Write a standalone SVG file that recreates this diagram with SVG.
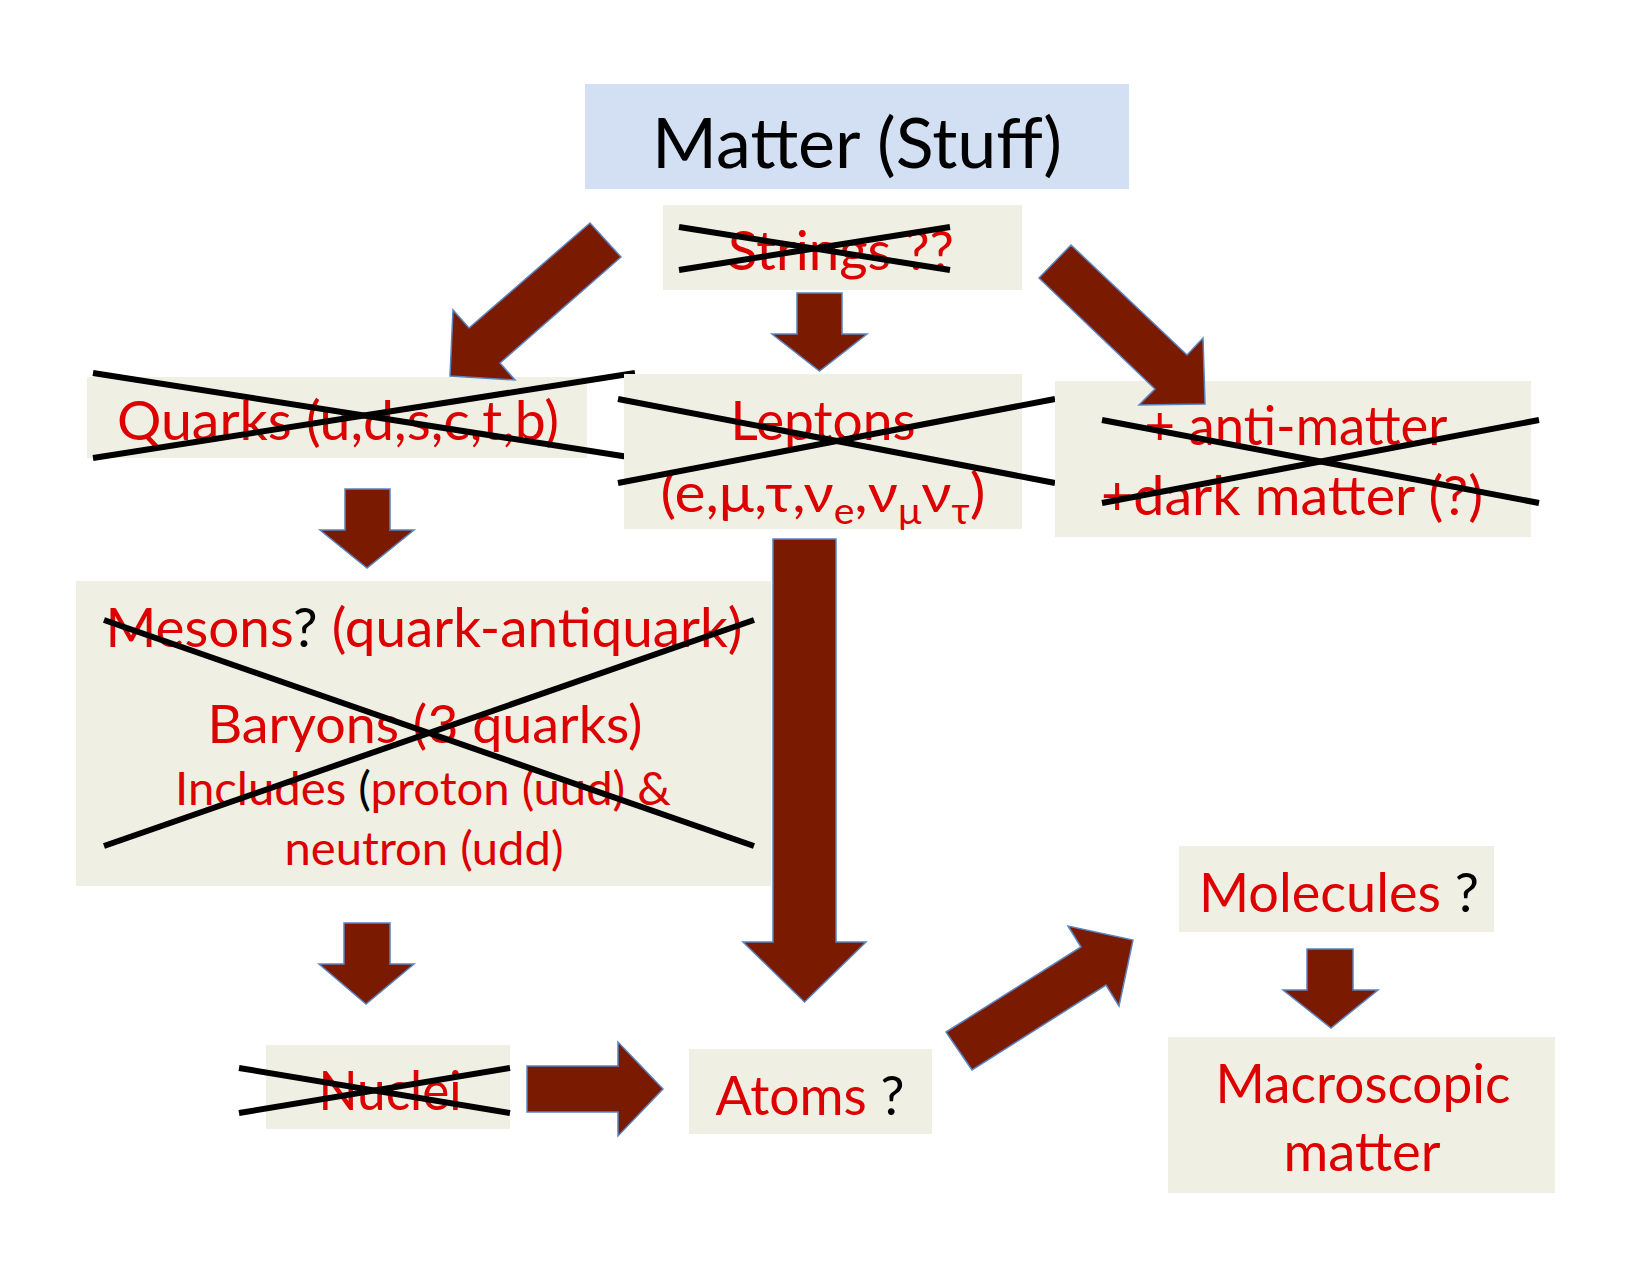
<svg xmlns="http://www.w3.org/2000/svg" width="1650" height="1275" viewBox="0 0 1650 1275">
<style>
.box{fill:#eff0e3}
.t{font-family:Lato,"Open Sans","Liberation Sans",sans-serif;fill:#dd0000;text-anchor:middle}
.k{fill:#000}
.x{stroke:#000;stroke-width:6;fill:none}
.arr{fill:#7a1a00;stroke:#5a84c0;stroke-width:1.5;stroke-linejoin:miter}
</style>
<rect width="1650" height="1275" fill="#fff"/>
<g id="matter">
<rect x="585" y="84" width="544" height="105" fill="#d3e0f3"/>
<text class="t k" x="857" y="168" font-size="70" textLength="410" lengthAdjust="spacingAndGlyphs">Matter (Stuff)</text>
</g>
<g id="strings">
<rect class="box" x="663" y="205" width="359" height="85"/>
<text class="t" x="841" y="270" font-size="54" textLength="226" lengthAdjust="spacingAndGlyphs">Strings ??</text>
<line class="x" x1="679" y1="227" x2="950" y2="270"/>
<line class="x" x1="679" y1="270" x2="950" y2="227"/>
</g>
<g id="quarks">
<rect class="box" x="87" y="377" width="500" height="81"/>
<text class="t" x="338" y="440" font-size="54" textLength="442" lengthAdjust="spacingAndGlyphs">Quarks (u,d,s,c,t,b)</text>
<line class="x" x1="93" y1="373" x2="635" y2="458"/>
<line class="x" x1="93" y1="458" x2="635" y2="373"/>
</g>
<g id="leptons">
<rect class="box" x="624" y="374" width="398" height="155"/>
<text class="t" x="823" y="440" font-size="54" textLength="185" lengthAdjust="spacingAndGlyphs">Leptons</text>
<text class="t" x="823" y="512" font-size="54" textLength="325" lengthAdjust="spacingAndGlyphs">(e,μ,τ,ν<tspan font-size="36" dy="12">e</tspan><tspan dy="-12">,ν</tspan><tspan font-size="36" dy="12">μ</tspan><tspan dy="-12">ν</tspan><tspan font-size="36" dy="12">τ</tspan><tspan dy="-12">)</tspan></text>
<line class="x" x1="618" y1="399" x2="1055" y2="483"/>
<line class="x" x1="618" y1="483" x2="1055" y2="399"/>
</g>
<g id="antimatter">
<rect class="box" x="1055" y="381" width="476" height="156"/>
<text class="t" x="1296" y="445" font-size="54" textLength="303" lengthAdjust="spacingAndGlyphs">+ anti-matter</text>
<text class="t" x="1292" y="515" font-size="54" textLength="382" lengthAdjust="spacingAndGlyphs">+dark matter (?)</text>
<line class="x" x1="1102" y1="420" x2="1539" y2="503"/>
<line class="x" x1="1102" y1="503" x2="1539" y2="420"/>
</g>
<g id="hadrons">
<rect class="box" x="76" y="581" width="695" height="305"/>
<text class="t" x="424" y="647" font-size="54" textLength="637" lengthAdjust="spacingAndGlyphs">Mesons<tspan class="k">?</tspan> (quark-antiquark)</text>
<text class="t" x="425" y="743" font-size="52" textLength="435" lengthAdjust="spacingAndGlyphs">Baryons (3 quarks)</text>
<text class="t" x="423" y="805" font-size="47" textLength="496" lengthAdjust="spacingAndGlyphs">Includes <tspan class="k">(</tspan>proton (uud) &amp;</text>
<text class="t" x="424" y="865" font-size="47" textLength="279" lengthAdjust="spacingAndGlyphs">neutron (udd)</text>
<line class="x" x1="104" y1="620" x2="754" y2="846"/>
<line class="x" x1="104" y1="846" x2="754" y2="620"/>
</g>
<g id="nuclei">
<rect class="box" x="266" y="1045" width="244" height="84"/>
<text class="t" x="390" y="1110" font-size="54" textLength="143" lengthAdjust="spacingAndGlyphs">Nuclei</text>
<line class="x" x1="239" y1="1068" x2="510" y2="1113"/>
<line class="x" x1="239" y1="1113" x2="510" y2="1068"/>
</g>
<g id="atoms">
<rect class="box" x="689" y="1049" width="243" height="85"/>
<text class="t" x="810" y="1115" font-size="54" textLength="189" lengthAdjust="spacingAndGlyphs">Atoms <tspan class="k">?</tspan></text>
</g>
<g id="molecules">
<rect class="box" x="1179" y="846" width="315" height="86"/>
<text class="t" x="1339" y="912" font-size="54" textLength="280" lengthAdjust="spacingAndGlyphs">Molecules <tspan class="k">?</tspan></text>
</g>
<g id="macroscopic">
<rect class="box" x="1168" y="1037" width="387" height="156"/>
<text class="t" x="1363" y="1103" font-size="54" textLength="295" lengthAdjust="spacingAndGlyphs">Macroscopic</text>
<text class="t" x="1362" y="1171" font-size="54" textLength="157" lengthAdjust="spacingAndGlyphs">matter</text>
</g>
<g id="connectors">
<polygon class="arr" points="590,223 621,257 500,363 515,380 450,376 453,310 469,328"/>
<polygon class="arr" points="797,293 842,293 842,334 867,334 819.5,371 772,334 797,334"/>
<polygon class="arr" points="1071,245 1187,355 1203,338 1205,404 1139,405 1155,389 1039,278"/>
<polygon class="arr" points="345,489 390,489 390,530 414,530 367,568 320,530 345,530"/>
<polygon class="arr" points="773,539 836,539 836,942 866,942 804.5,1002 743,942 773,942"/>
<polygon class="arr" points="344,923 390,923 390,964 414,964 366,1004 319,964 344,964"/>
<polygon class="arr" points="527,1066 618,1066 618,1042 663,1089 618,1136 618,1112 527,1112"/>
<polygon class="arr" points="972,1070 946,1032 1081,947 1068,926 1133,940 1119,1006 1106,985"/>
<polygon class="arr" points="1307,949 1353,949 1353,990 1378,990 1331,1028 1283,990 1307,990"/>
</g>
</svg>
